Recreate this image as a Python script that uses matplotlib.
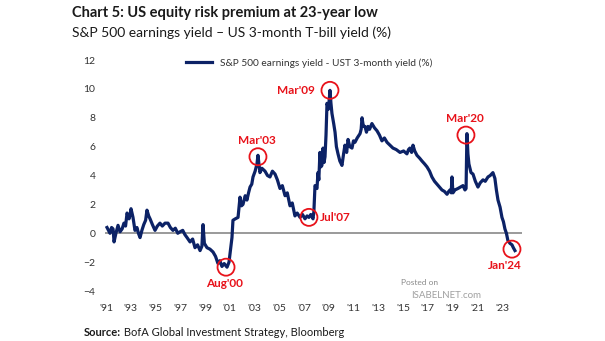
import matplotlib.pyplot as plt

plt.rcParams['font.family'] = ['Lato', 'DejaVu Sans']

# S&P 500 earnings yield minus UST 3-month yield (%)
years = [1991.08, 1991.20, 1991.32, 1991.45, 1991.57, 1991.65, 1991.80, 1991.97,
         1992.13, 1992.30, 1992.45, 1992.58, 1992.70, 1992.86, 1992.95, 1993.02,
         1993.18, 1993.34, 1993.50, 1993.62, 1993.75, 1993.90, 1994.05, 1994.20,
         1994.31, 1994.45, 1994.56, 1994.75, 1994.96, 1995.15, 1995.36, 1995.55,
         1995.77, 1996.01, 1996.20, 1996.41, 1996.60, 1996.80, 1996.98, 1997.20,
         1997.38, 1997.55, 1997.79, 1998.00, 1998.19, 1998.40, 1998.60, 1998.75,
         1998.84, 1998.95, 1999.16, 1999.40, 1999.65, 1999.85, 2000.05, 2000.20,
         2000.37, 2000.55, 2000.78, 2000.94, 2001.18, 2001.26, 2001.45, 2001.67,
         2001.83, 2001.95, 2002.07, 2002.25, 2002.39, 2002.52, 2002.64, 2002.78,
         2002.88, 2003.05, 2003.20, 2003.28, 2003.44, 2003.60, 2003.85, 2004.05,
         2004.25, 2004.45, 2004.66, 2004.85, 2005.06, 2005.25, 2005.47, 2005.65,
         2005.87, 2006.05, 2006.27, 2006.45, 2006.68, 2006.88, 2007.08, 2007.25,
         2007.40, 2007.55, 2007.73, 2007.80, 2007.89, 2008.05, 2008.13, 2008.20,
         2008.29, 2008.37, 2008.45, 2008.54, 2008.62, 2008.70, 2008.78, 2008.86,
         2008.98, 2009.10, 2009.18, 2009.26, 2009.40, 2009.51, 2009.62, 2009.75,
         2009.90, 2010.07, 2010.20, 2010.31, 2010.45, 2010.56, 2010.70, 2010.88,
         2011.00, 2011.12, 2011.30, 2011.53, 2011.62, 2011.69, 2011.80, 2011.93,
         2012.05, 2012.17, 2012.30, 2012.49, 2012.70, 2012.90, 2013.10, 2013.30,
         2013.50, 2013.71, 2013.95, 2014.19, 2014.45, 2014.76, 2015.05, 2015.32,
         2015.45, 2015.56, 2015.70, 2015.81, 2015.95, 2016.13, 2016.35, 2016.54,
         2016.75, 2016.94, 2017.15, 2017.34, 2017.55, 2017.75, 2017.95, 2018.15,
         2018.35, 2018.56, 2018.70, 2018.80, 2018.90, 2018.96, 2019.04, 2019.20,
         2019.44, 2019.65, 2019.85, 2020.01, 2020.10, 2020.17, 2020.25, 2020.33,
         2020.50, 2020.66, 2020.85, 2021.06, 2021.25, 2021.47, 2021.65, 2021.87,
         2022.05, 2022.27, 2022.43, 2022.55, 2022.68, 2022.85, 2023.00, 2023.12,
         2023.24, 2023.36, 2023.48, 2023.65, 2023.81, 2023.92, 2024.05]
erp = [0.4, 0.2, 0.0, 0.4, 0.3, -0.6, 0.0, 0.55,
       0.1, 0.3, 0.7, 0.5, 1.4, 1.0, 1.3, 1.7,
       1.1, 0.2, 0.4, 0.0, -0.3, 0.2, 0.6, 0.9,
       1.6, 1.2, 1.0, 0.6, 0.2, 0.5, 0.7, 0.5,
       0.7, 0.7, 0.4, 0.2, 0.35, 0.0, 0.1, 0.2,
       -0.1, -0.3, -0.6, -0.4, -1.0, -0.8, -1.2, -0.9,
       0.6, -0.7, -1.0, -1.1, -1.3, -1.6, -2.1, -1.9,
       -2.3, -2.1, -2.35, -2.0, -0.3, 0.9, 1.0, 1.1,
       2.5, 1.9, 2.0, 2.6, 2.3, 2.8, 3.2, 3.4,
       3.9, 4.3, 4.8, 5.4, 4.2, 4.5, 4.3, 4.0,
       3.9, 4.3, 4.1, 3.7, 3.1, 3.3, 2.6, 2.8,
       1.9, 2.1, 1.2, 1.4, 1.1, 1.3, 1.0, 1.2,
       1.1, 1.3, 1.0, 1.5, 3.3, 3.1, 4.2, 3.7,
       5.6, 4.6, 4.7, 5.9, 4.9, 5.3, 6.8, 9.0,
       8.6, 9.9, 9.0, 8.3, 7.6, 7.0, 6.0, 5.5,
       5.0, 4.7, 5.5, 6.1, 5.6, 6.5, 6.0, 5.9,
       6.4, 6.3, 6.6, 6.9, 7.2, 8.0, 7.4, 7.4,
       7.0, 7.4, 7.2, 7.6, 7.3, 7.1, 6.8, 6.4,
       6.6, 6.3, 6.1, 5.9, 5.8, 5.6, 5.7, 5.5,
       5.8, 5.9, 5.6, 6.1, 5.7, 5.4, 5.2, 5.0,
       4.8, 4.6, 4.3, 3.9, 3.6, 3.4, 3.2, 3.0,
       2.9, 2.7, 2.9, 3.0, 2.8, 3.9, 2.8, 3.0,
       3.1, 3.2, 3.3, 3.0, 3.1, 6.9, 5.5, 4.8,
       4.2, 4.1, 3.6, 3.2, 3.5, 3.7, 3.6, 3.9,
       4.0, 4.2, 3.8, 3.0, 2.3, 1.8, 1.1, 0.8,
       0.3, 0.0, -0.5, -0.7, -0.8, -1.0, -1.2]

# circled events: label, year, value
events = ["Aug'00", "Mar'03", "Jul'07", "Mar'09", "Mar'20", "Jan'24"]
event_years = [2000.70, 2003.28, 2007.40, 2009.10, 2020.09, 2023.81]
event_vals = [-2.35, 5.3, 1.1, 9.9, 6.8, -1.1]

tick_years = list(range(1991, 2024, 2))
tick_labels = ["'%02d" % (y % 100) for y in tick_years]

navy = '#0c2266'
red = '#e8121a'

fig = plt.figure(figsize=(6.05, 3.41), dpi=100)
ax = fig.add_axes([0.1736, 0.1466, 0.6892, 0.6774])

ax.axhline(0, color='#7f7f7f', lw=1.1, zorder=1)
ax.plot(years, erp, color=navy, lw=2.3, label='S&P 500 earnings yield - UST 3-month yield (%)', zorder=2)

ax.scatter(event_years, event_vals, s=150, facecolors='none', edgecolors=red, linewidths=1.3, zorder=3)
offsets = [(-1, -12, 'center'), (-1, 12, 'center'), (8, 0, 'left'),
           (-11, 0, 'right'), (-1, 12, 'center'), (-5, -12, 'center')]
for lab, x, y, (dx, dy, ha) in zip(events, event_years, event_vals, offsets):
    ax.annotate(lab, (x, y), xytext=(dx, dy), textcoords='offset points',
                ha=ha, va='center', color=red, fontsize=8.5, fontweight='bold')

ax.set_xlim(1990.92, 2024.62)
ax.set_ylim(-4, 12)
ax.set_yticks(range(-4, 13, 2))
ax.set_xticks(tick_years)
ax.set_xticklabels(tick_labels)
ax.tick_params(length=0, labelsize=7.5, labelcolor='#333333')
ax.tick_params(axis='y', pad=7)
ax.tick_params(axis='x', pad=9)
for s in ax.spines.values():
    s.set_visible(False)

ax.legend(loc='center', bbox_to_anchor=(0.489, 0.987), frameon=False, fontsize=7.3,
          handlelength=2.6, labelcolor='#333333')

fig.text(0.119, 0.962, 'Chart 5: US equity risk premium at 23-year low', fontsize=10.5,
         fontweight='bold', color='#1a1a1a', va='center')
fig.text(0.119, 0.903, 'S&P 500 earnings yield \u2013 US 3-month T-bill yield (%)', fontsize=10,
         color='#1a1a1a', va='center')

src = fig.text(0.139, 0.026, 'Source:', fontsize=8, fontweight='bold', color='#1a1a1a', va='center')
fig.canvas.draw()
ax.annotate(' BofA Global Investment Strategy, Bloomberg', xy=(1, 0.5), xycoords=src,
            va='center', fontsize=8, color='#1a1a1a')

# watermark
fig.text(0.662, 0.165, 'Posted on', fontsize=6, color='#8a8a8a')
fig.text(0.68, 0.127, 'ISABELNET.com', fontsize=7, color='#a0a0a0')

fig.savefig('out.png', dpi=100)
